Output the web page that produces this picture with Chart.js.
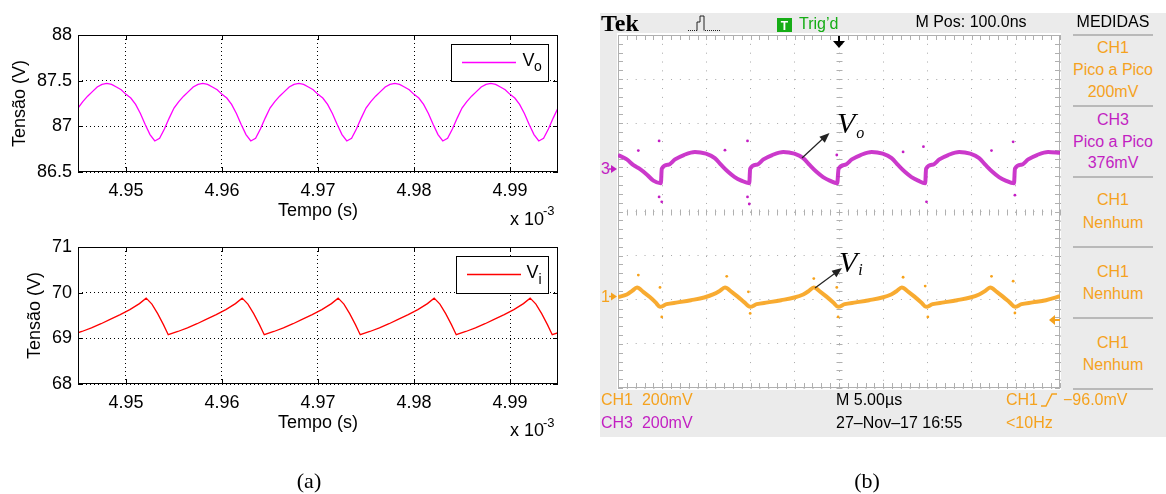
<!DOCTYPE html>
<html lang="pt-BR">
<head>
<meta charset="utf-8">
<title>Tensões Vo e Vi</title>
<script src="https://cdn.jsdelivr.net/npm/chart.js@4.4.1/dist/chart.umd.min.js"></script>
<style>
  html, body { margin: 0; padding: 0; }
  body { width: 1166px; height: 494px; position: relative; overflow: hidden; background: #fff;
         font-family: "Liberation Sans", Arial, sans-serif; }
  .abs { position: absolute; }
  .txt { position: absolute; white-space: pre; line-height: 1; }
  .c { transform: translate(-50%, -50%); }
  .l { transform: translateY(-50%); }
  .tek { font-size: 16px; }
  .or { color: #f5a21e; }
  .mg { color: #c21fc2; }
  .sep { position: absolute; left: 1073px; width: 80px; height: 2px; background: #b9b9b9; }
  .serif { font-family: "Liberation Serif", "Times New Roman", serif; }
</style>
</head>
<body>

<!-- (a) simulação -->
<canvas id="graficoVo" class="abs" width="580" height="230" style="left:0;top:0"></canvas>
<canvas id="graficoVi" class="abs" width="580" height="230" style="left:0;top:212px"></canvas>
<div class="txt l" style="left:510px;top:218.5px;font-size:18px">x 10</div>
<div class="txt l" style="left:543px;top:210px;font-size:13px">-3</div>
<div class="txt l" style="left:510px;top:430px;font-size:18px">x 10</div>
<div class="txt l" style="left:543px;top:422px;font-size:13px">-3</div>

<!-- (b) osciloscópio -->
<div class="abs" style="left:600px;top:13px;width:566px;height:424px;background:#ebebeb"></div>
<div class="abs" style="left:617px;top:33px;width:444px;height:357px;background:#fff"></div>
<canvas id="osciloscopio" class="abs" width="450" height="361" style="left:614px;top:31px"></canvas>

<div class="txt l serif" style="left:601px;top:23px;font-size:24px;font-weight:bold">Tek</div>
<div class="txt l tek" style="left:799px;top:24px;color:#16ad16">Trig’d</div>
<div class="txt c tek" style="left:971px;top:22px">M Pos: 100.0ns</div>
<div class="txt c tek" style="left:1113px;top:22px">MEDIDAS</div>

<div class="sep" style="top:34px"></div>
<div class="sep" style="top:105px"></div>
<div class="sep" style="top:176px"></div>
<div class="sep" style="top:246px"></div>
<div class="sep" style="top:317px"></div>
<div class="sep" style="top:388px"></div>

<div class="txt c tek or" style="left:1113px;top:48px">CH1</div>
<div class="txt c tek or" style="left:1113px;top:70px">Pico a Pico</div>
<div class="txt c tek or" style="left:1113px;top:92px">200mV</div>
<div class="txt c tek mg" style="left:1113px;top:120px">CH3</div>
<div class="txt c tek mg" style="left:1113px;top:141.5px">Pico a Pico</div>
<div class="txt c tek mg" style="left:1113px;top:163px">376mV</div>
<div class="txt c tek or" style="left:1113px;top:199.5px">CH1</div>
<div class="txt c tek or" style="left:1113px;top:222.5px">Nenhum</div>
<div class="txt c tek or" style="left:1113px;top:271.5px">CH1</div>
<div class="txt c tek or" style="left:1113px;top:293.5px">Nenhum</div>
<div class="txt c tek or" style="left:1113px;top:343px">CH1</div>
<div class="txt c tek or" style="left:1113px;top:364.5px">Nenhum</div>

<div class="txt l tek or" style="left:601px;top:399.5px">CH1  200mV</div>
<div class="txt l tek mg" style="left:601px;top:423px">CH3  200mV</div>
<div class="txt l tek" style="left:836px;top:399.5px">M 5.00µs</div>
<div class="txt l tek" style="left:836px;top:423px">27–Nov–17 16:55</div>
<div class="txt l tek or" style="left:1006px;top:399.5px">CH1</div>
<div class="txt l tek or" style="left:1063px;top:399.5px">−96.0mV</div>
<div class="txt l tek or" style="left:1006px;top:423px">&lt;10Hz</div>

<div class="txt l tek mg" style="left:601px;top:169px">3</div>
<div class="txt l tek or" style="left:601px;top:296.5px">1</div>

<div class="txt serif" style="left:837px;top:108px;font-size:30px;font-style:italic">V<span style="font-size:16px;position:relative;top:5px;left:1px">o</span></div>
<div class="txt serif" style="left:839px;top:246.5px;font-size:30px;font-style:italic">V<span style="font-size:16px;position:relative;top:3.5px;left:1px">i</span></div>

<svg class="abs" width="1166" height="494" style="left:0;top:0">
  <path d="M688 30.5 H697" stroke="#222" stroke-dasharray="1 1"/>
  <path d="M697 30.5 V22 H700 V16 H704 V30.5" fill="none" stroke="#222"/>
  <path d="M705 30.5 H720" stroke="#222" stroke-dasharray="1 1"/>
  <rect x="777" y="18" width="15" height="14" fill="#16ad16"/>
  <text x="784.5" y="29.5" font-size="12" font-weight="bold" fill="#fff" text-anchor="middle" font-family="Liberation Sans">T</text>
  <path d="M839 36 V42" stroke="#000" stroke-width="2"/>
  <polygon points="833,41 845,41 839,48" fill="#000"/>
  <path d="M609 169 H612" stroke="#c21fc2" stroke-width="1.5"/>
  <polygon points="611,165 617,169 611,173" fill="#c21fc2"/>
  <path d="M609 296.5 H612" stroke="#f5a21e" stroke-width="1.5"/>
  <polygon points="611,292.5 617,296.5 611,300.5" fill="#f5a21e"/>
  <polygon points="1049,320 1055,315 1055,325" fill="#f5a21e"/>
  <path d="M1055 320 H1060" stroke="#f5a21e" stroke-width="2"/>
  <polyline points="1041,406 1046,406 1052,394 1057,394" fill="none" stroke="#f5a21e" stroke-width="1.5"/>
  <path d="M802 158 L823 138.5" stroke="#222" stroke-width="1.2"/>
  <polygon points="829.5,133 824.8,142.7 819.4,136.7" fill="#222"/>
  <path d="M815 288 L836 272.4" stroke="#222" stroke-width="1.2"/>
  <polygon points="842,268 836.4,277.2 831.6,270.8" fill="#222"/>
</svg>

<div class="txt c serif" style="left:309px;top:481px;font-size:22px">(a)</div>
<div class="txt c serif" style="left:867px;top:481px;font-size:22px">(b)</div>

<script>
// ---- (a) simulação: tempo em s x 10^-3 ----
const tempoVo = [
  4.9450, 4.9455, 4.9460, 4.9465, 4.9470, 4.9475, 4.9480, 4.9485, 4.9490, 4.9495,
  4.9500, 4.9505, 4.9510, 4.9515, 4.9520, 4.9525, 4.9530, 4.9535, 4.9540, 4.9545,
  4.9550, 4.9555, 4.9560, 4.9565, 4.9570, 4.9575, 4.9580, 4.9585, 4.9590, 4.9595,
  4.9600, 4.9605, 4.9610, 4.9615, 4.9620, 4.9625, 4.9630, 4.9635, 4.9640, 4.9645,
  4.9650, 4.9655, 4.9660, 4.9665, 4.9670, 4.9675, 4.9680, 4.9685, 4.9690, 4.9695,
  4.9700, 4.9705, 4.9710, 4.9715, 4.9720, 4.9725, 4.9730, 4.9735, 4.9740, 4.9745,
  4.9750, 4.9755, 4.9760, 4.9765, 4.9770, 4.9775, 4.9780, 4.9785, 4.9790, 4.9795,
  4.9800, 4.9805, 4.9810, 4.9815, 4.9820, 4.9825, 4.9830, 4.9835, 4.9840, 4.9845,
  4.9850, 4.9855, 4.9860, 4.9865, 4.9870, 4.9875, 4.9880, 4.9885, 4.9890, 4.9895,
  4.9900, 4.9905, 4.9910, 4.9915, 4.9920, 4.9925, 4.9930, 4.9935, 4.9940, 4.9945,
  4.9950
];
const vo = [
  87.20, 87.27, 87.33, 87.38, 87.43, 87.46, 87.47, 87.46, 87.43, 87.40, 87.35, 87.31, 87.24, 87.14, 87.02, 86.91,
  86.84, 86.87, 86.97, 87.09, 87.20, 87.27, 87.33, 87.38, 87.43, 87.46, 87.47, 87.46, 87.43, 87.40, 87.35, 87.31, 87.24, 87.14, 87.02, 86.91,
  86.84, 86.87, 86.97, 87.09, 87.20, 87.27, 87.33, 87.38, 87.43, 87.46, 87.47, 87.46, 87.43, 87.40, 87.35, 87.31, 87.24, 87.14, 87.02, 86.91,
  86.84, 86.87, 86.97, 87.09, 87.20, 87.27, 87.33, 87.38, 87.43, 87.46, 87.47, 87.46, 87.43, 87.40, 87.35, 87.31, 87.24, 87.14, 87.02, 86.91,
  86.84, 86.87, 86.97, 87.09, 87.20, 87.27, 87.33, 87.38, 87.43, 87.46, 87.47, 87.46, 87.43, 87.40, 87.35, 87.31, 87.24, 87.14, 87.02, 86.91,
  86.84, 86.87, 86.97, 87.09, 87.20
];

const tempoVi = [
  4.9444, 4.9454, 4.9464, 4.9474, 4.9484, 4.9494, 4.9504, 4.9514, 4.9521, 4.9527, 4.9533, 4.9539,
  4.9544, 4.9554, 4.9564, 4.9574, 4.9584, 4.9594, 4.9604, 4.9614, 4.9621, 4.9627, 4.9633, 4.9639,
  4.9644, 4.9654, 4.9664, 4.9674, 4.9684, 4.9694, 4.9704, 4.9714, 4.9721, 4.9727, 4.9733, 4.9739,
  4.9744, 4.9754, 4.9764, 4.9774, 4.9784, 4.9794, 4.9804, 4.9814, 4.9821, 4.9827, 4.9833, 4.9839,
  4.9844, 4.9854, 4.9864, 4.9874, 4.9884, 4.9894, 4.9904, 4.9914, 4.9921, 4.9927, 4.9933, 4.9939,
  4.9944, 4.9954
];
const vi = [
  69.08, 69.15, 69.23, 69.32, 69.42, 69.52, 69.63, 69.76, 69.88, 69.75, 69.54, 69.30,
  69.08, 69.15, 69.23, 69.32, 69.42, 69.52, 69.63, 69.76, 69.88, 69.75, 69.54, 69.30,
  69.08, 69.15, 69.23, 69.32, 69.42, 69.52, 69.63, 69.76, 69.88, 69.75, 69.54, 69.30,
  69.08, 69.15, 69.23, 69.32, 69.42, 69.52, 69.63, 69.76, 69.88, 69.75, 69.54, 69.30,
  69.08, 69.15, 69.23, 69.32, 69.42, 69.52, 69.63, 69.76, 69.88, 69.75, 69.54, 69.30,
  69.08, 69.15
];

const tempoTicks = [4.95, 4.96, 4.97, 4.98, 4.99];
const voTicks = [86.5, 87, 87.5, 88];
const viTicks = [68, 69, 70, 71];

// ---- (b) osciloscópio: x e y em divisões (centro = 0) ----
const ch3X = [0, 0.2, 0.35, 0.5, 0.65, 0.8, 0.97,
  0.99, 1.14, 1.29, 1.49, 1.74, 1.99, 2.19, 2.34, 2.49, 2.64, 2.79, 2.97,
  2.99, 3.14, 3.29, 3.49, 3.74, 3.99, 4.19, 4.34, 4.49, 4.64, 4.79, 4.96,
  4.99, 5.14, 5.29, 5.49, 5.74, 5.99, 6.19, 6.34, 6.49, 6.64, 6.79, 6.95,
  6.97, 7.12, 7.27, 7.47, 7.72, 7.97, 8.17, 8.32, 8.47, 8.62, 8.77, 8.96,
  8.98, 9.13, 9.28, 9.48, 9.73, 10.0];
const ch3Y = [1.28, 1.18, 1.05, 0.96, 0.84, 0.70, 0.64,
  0.97, 1.06, 1.18, 1.28, 1.35, 1.31, 1.21, 1.05, 0.90, 0.78, 0.70, 0.64,
  0.97, 1.06, 1.18, 1.28, 1.35, 1.31, 1.21, 1.05, 0.90, 0.78, 0.70, 0.64,
  0.97, 1.06, 1.18, 1.28, 1.35, 1.31, 1.21, 1.05, 0.90, 0.78, 0.70, 0.64,
  0.97, 1.06, 1.18, 1.28, 1.35, 1.31, 1.21, 1.05, 0.90, 0.78, 0.70, 0.64,
  0.97, 1.06, 1.18, 1.28, 1.35, 1.33];

const ch1X = [0, 0.2, 0.32, 0.43, 0.57, 0.72, 0.85, 0.95,
  1.10, 1.35, 1.65, 1.95, 2.15, 2.30, 2.42, 2.57, 2.72, 2.86, 2.99,
  3.14, 3.39, 3.69, 3.99, 4.19, 4.32, 4.43, 4.58, 4.73, 4.87, 4.98,
  5.13, 5.38, 5.68, 5.98, 6.18, 6.31, 6.42, 6.57, 6.72, 6.86, 6.97,
  7.12, 7.37, 7.67, 7.97, 8.17, 8.31, 8.42, 8.57, 8.72, 8.86, 8.98,
  9.13, 9.38, 9.68, 10.0];
const ch1Y = [-1.94, -1.88, -1.80, -1.72, -1.82, -1.94, -2.06, -2.16,
  -2.10, -2.06, -2.01, -1.95, -1.88, -1.80, -1.72, -1.82, -1.94, -2.06, -2.16,
  -2.10, -2.06, -2.01, -1.95, -1.88, -1.80, -1.72, -1.82, -1.94, -2.06, -2.16,
  -2.10, -2.06, -2.01, -1.95, -1.88, -1.80, -1.72, -1.82, -1.94, -2.06, -2.16,
  -2.10, -2.06, -2.01, -1.95, -1.88, -1.80, -1.72, -1.82, -1.94, -2.06, -2.16,
  -2.10, -2.06, -2.01, -1.92];

// pontos soltos (ruído) fora da faixa do traço
const ch3SoltoX = [0.46, 0.93, 0.93, 0.99, 2.42, 2.93, 2.93, 2.97, 4.95, 6.45, 6.91, 6.98, 8.45, 8.94, 8.98];
const ch3SoltoY = [1.38, 1.60, 0.33, 0.22, 1.39, 1.60, 0.33, 0.17, 1.28, 1.35, 1.47, 0.22, 1.38, 1.58, 0.37];
const ch1SoltoX = [0.46, 0.95, 0.99, 2.46, 2.95, 2.99, 4.43, 4.95, 4.98, 6.45, 6.95, 7.01, 8.45, 8.94, 8.98];
const ch1SoltoY = [-1.44, -1.72, -2.39, -1.47, -1.82, -2.31, -1.52, -1.72, -2.39, -1.49, -1.69, -2.39, -1.47, -1.58, -2.30];

const pts = (xs, ys) => xs.map((x, i) => ({ x, y: ys[i] }));

Chart.defaults.font.family = '"Liberation Sans", Arial, sans-serif';
Chart.defaults.color = '#000';

// moldura estilo MATLAB + legenda com subscrito
const moldura = {
  id: 'moldura',
  afterDatasetsDraw(chart, args, opts) {
    const { ctx, chartArea: a, scales: { x, y } } = chart;
    ctx.save();
    ctx.strokeStyle = '#000';
    ctx.lineWidth = 1;
    ctx.beginPath();
    x.ticks.forEach(t => {
      const px = Math.round(x.getPixelForValue(t.value)) + 0.5;
      ctx.moveTo(px, a.bottom); ctx.lineTo(px, a.bottom - 5);
      ctx.moveTo(px, a.top); ctx.lineTo(px, a.top + 5);
    });
    y.ticks.forEach(t => {
      const py = Math.round(y.getPixelForValue(t.value)) + 0.5;
      ctx.moveTo(a.left, py); ctx.lineTo(a.left + 5, py);
      ctx.moveTo(a.right, py); ctx.lineTo(a.right - 5, py);
    });
    ctx.stroke();
    ctx.strokeRect(Math.round(a.left) + 0.5, Math.round(a.top) + 0.5,
                   Math.round(a.right - a.left) - 1, Math.round(a.bottom - a.top) - 1);

    const L = opts.legenda;
    if (L) {
      ctx.fillStyle = '#fff';
      ctx.fillRect(L.box[0], L.box[1], L.box[2], L.box[3]);
      ctx.strokeRect(L.box[0], L.box[1], L.box[2], L.box[3]);
      ctx.strokeStyle = L.cor;
      ctx.lineWidth = 1.3;
      ctx.beginPath();
      ctx.moveTo(L.linha[0], L.linha[2]); ctx.lineTo(L.linha[1], L.linha[2]);
      ctx.stroke();
      ctx.fillStyle = '#000';
      ctx.textBaseline = 'alphabetic';
      ctx.font = '18px "Liberation Sans", Arial, sans-serif';
      ctx.fillText('V', L.vx, L.vy);
      ctx.font = '14px "Liberation Sans", Arial, sans-serif';
      ctx.fillText(L.sub, L.sx, L.sy);
    }
    ctx.restore();
  }
};

function graficoSimulacao(id, tempos, valores, cor, yMin, yMax, yTicks, tituloPad, legenda) {
  return new Chart(document.getElementById(id), {
    type: 'line',
    data: {
      datasets: [{
        data: pts(tempos, valores),
        borderColor: cor,
        borderWidth: 1.3,
        pointRadius: 0,
        tension: 0,
        fill: false
      }]
    },
    options: {
      responsive: false,
      animation: false,
      events: [],
      layout: { padding: { top: 35, right: 22, left: 0, bottom: 0 } },
      plugins: { legend: { display: false }, tooltip: { enabled: false }, moldura: { legenda } },
      scales: {
        x: {
          type: 'linear', min: 4.945, max: 4.995,
          afterBuildTicks: s => { s.ticks = tempoTicks.map(v => ({ value: v })); },
          afterFit: s => { s.height = 58; },
          ticks: { padding: 8, font: { size: 18 }, callback: v => v.toFixed(2) },
          grid: { color: '#000', lineWidth: 1, drawTicks: false },
          border: { display: false, dash: [1, 3] },
          title: { display: true, text: 'Tempo (s)', font: { size: 18 }, padding: { top: 0, bottom: 8 } }
        },
        y: {
          type: 'linear', min: yMin, max: yMax,
          afterBuildTicks: s => { s.ticks = yTicks.map(v => ({ value: v })); },
          afterFit: s => { s.width = 78; },
          ticks: { padding: 6, font: { size: 18 }, callback: v => String(v) },
          grid: { color: '#000', lineWidth: 1, drawTicks: false },
          border: { display: false, dash: [1, 3] },
          title: { display: true, text: 'Tensão (V)', font: { size: 18 }, padding: { top: tituloPad, bottom: 0 } }
        }
      }
    },
    plugins: [moldura]
  });
}

graficoSimulacao('graficoVo', tempoVo, vo, '#ff00ff', 86.5, 88, voTicks, 9,
  { box: [451.5, 44.5, 97, 37], linha: [462, 516, 62.5], cor: '#ff00ff', vx: 522.5, vy: 65.5, sub: 'o', sx: 534, sy: 71 });
graficoSimulacao('graficoVi', tempoVi, vi, '#ff0000', 68, 71, viTicks, 24,
  { box: [456.5, 44.5, 92, 37], linha: [467, 521, 62.5], cor: '#ff0000', vx: 526.5, vy: 66, sub: 'i', sx: 538.5, sy: 72 });

// retículo do osciloscópio: borda e marcas de subdivisão
const reticulo = {
  id: 'reticulo',
  beforeDatasetsDraw(chart) {
    const { ctx, chartArea: a, scales: { x, y } } = chart;
    const cx = Math.round(x.getPixelForValue(5)) + 0.5;
    const cy = Math.round(y.getPixelForValue(0)) + 0.5;
    ctx.save();
    ctx.strokeStyle = '#b0b0b0';
    ctx.lineWidth = 1;
    ctx.strokeRect(a.left + 0.5, a.top + 0.5, a.right - a.left - 1, a.bottom - a.top - 1);
    ctx.beginPath();
    for (let i = 0; i <= 50; i++) {
      const px = Math.round(x.getPixelForValue(i * 0.2)) + 0.5;
      ctx.moveTo(px, a.top); ctx.lineTo(px, a.top + 5);
      ctx.moveTo(px, a.bottom); ctx.lineTo(px, a.bottom - 5);
      ctx.moveTo(px, cy - 3); ctx.lineTo(px, cy + 3);
    }
    for (let i = 0; i <= 40; i++) {
      const py = Math.round(y.getPixelForValue(-4 + i * 0.2)) + 0.5;
      ctx.moveTo(a.left, py); ctx.lineTo(a.left + 5, py);
      ctx.moveTo(a.right, py); ctx.lineTo(a.right - 5, py);
      ctx.moveTo(cx - 3, py); ctx.lineTo(cx + 3, py);
    }
    ctx.stroke();
    ctx.restore();
  }
};

const eixoDiv = (min, max) => ({
  type: 'linear', min, max,
  ticks: { display: false, stepSize: 1 },
  grid: { color: '#a8a8a8', lineWidth: 1, drawTicks: false },
  border: { display: false, dash: [1, 7.84] }
});

new Chart(document.getElementById('osciloscopio'), {
  type: 'scatter',
  data: {
    datasets: [
      { data: pts(ch3X, ch3Y), showLine: true, borderColor: 'rgba(196,30,196,0.88)', borderWidth: 4,
        pointRadius: 0, cubicInterpolationMode: 'monotone', clip: 0 },
      { data: pts(ch1X, ch1Y), showLine: true, borderColor: 'rgba(247,162,27,0.9)', borderWidth: 4,
        pointRadius: 0, cubicInterpolationMode: 'monotone', clip: 0 },
      { data: pts(ch3SoltoX, ch3SoltoY), pointRadius: 1.4, borderWidth: 0, backgroundColor: '#c41ec4' },
      { data: pts(ch1SoltoX, ch1SoltoY), pointRadius: 1.4, borderWidth: 0, backgroundColor: '#f7a21b' }
    ]
  },
  options: {
    responsive: false,
    animation: false,
    events: [],
    layout: { padding: 4 },
    plugins: { legend: { display: false }, tooltip: { enabled: false } },
    scales: {
      x: { ...eixoDiv(0, 10), afterFit: s => { s.height = 0; } },
      y: { ...eixoDiv(-4, 4), afterFit: s => { s.width = 0; } }
    }
  },
  plugins: [reticulo]
});
</script>
</body>
</html>
